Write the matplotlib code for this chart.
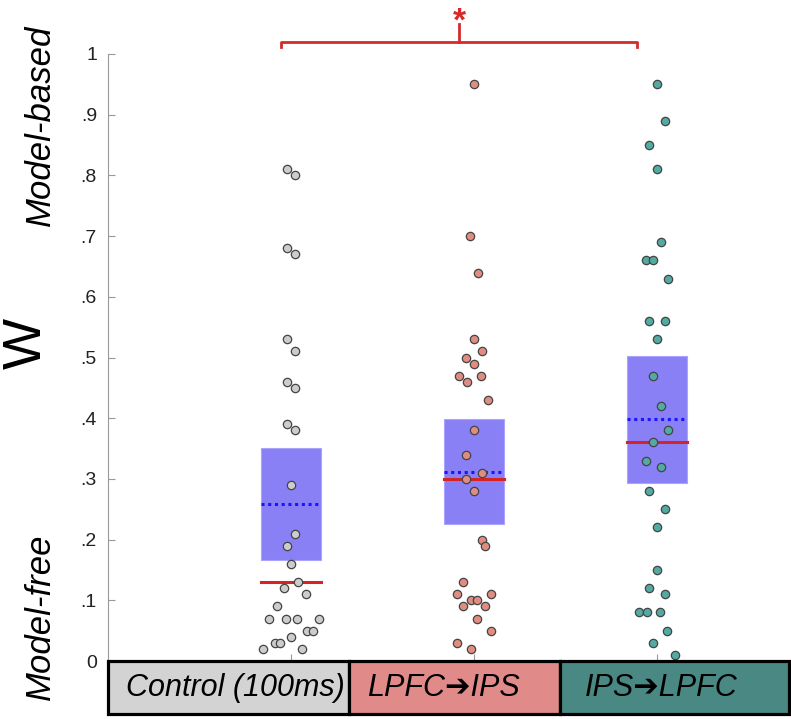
import matplotlib
matplotlib.use("Agg")
import matplotlib.pyplot as plt
from matplotlib.patches import Rectangle
import numpy as np

plt.rcParams['font.family'] = ['Liberation Sans', 'DejaVu Sans']

# Group names and colours
groups = ['Control (100ms)', 'LPFC\u2794IPS', 'IPS\u2794LPFC']
box_colors = ['#d3d3d3', '#e08a8a', '#4a8884']
dot_colors = ['#cccccc', '#e08c80', '#52aaa2']

# W values per subject
control = [.81, .80, .68, .67, .53, .51, .46, .45, .39, .38, .29, .21, .19, .16, .13,
           .12, .11, .09, .07, .07, .07, .07, .05, .05, .04, .03, .03, .02, .02]
lpfc_ips = [.95, .70, .64, .53, .51, .50, .49, .47, .47, .46, .43, .38, .34, .31, .30,
            .28, .20, .19, .13, .11, .11, .10, .10, .09, .09, .07, .05, .03, .02]
ips_lpfc = [.95, .89, .85, .81, .69, .66, .66, .63, .56, .56, .53, .47, .42, .38, .36,
            .33, .32, .28, .25, .22, .15, .12, .11, .08, .08, .08, .05, .03, .01]

# horizontal jitter of each dot (x units)
control_jit = [-.024, .024, -.024, .024, -.024, .024, -.024, .024, -.024, .024, 0, .024, -.024, 0, .04,
               -.04, .08, -.078, -.122, -.029, .031, .151, .089, .122, 0, -.089, -.06, -.151, .06]
lpfc_jit = [0, -.024, .022, 0, .044, -.042, 0, -.08, .04, -.038, .078, 0, -.042, .044, -.042,
            0, .044, .058, -.058, -.095, .095, -.018, .018, -.058, .058, .018, .095, -.095, -.018]
ips_jit = [0, .044, -.044, 0, .022, -.062, -.02, .062, -.044, .044, 0, -.022, .022, .062, -.022,
           -.062, .022, -.044, .044, 0, 0, -.044, .044, -.097, -.056, .018, .056, -.022, .097]

# summary boxes (lower, upper), means and medians
box_low = [.166, .226, .293]
box_high = [.351, .398, .502]
means = [.259, .312, .398]
medians = [.13, .30, .36]

data = [control, lpfc_ips, ips_lpfc]
jitter = [control_jit, lpfc_jit, ips_jit]

fig = plt.figure(figsize=(7.91, 7.19), dpi=100)
ax = fig.add_axes([108 / 791, 58 / 719, 681 / 791, 607 / 719])
ax.set_xlim(0, 681 / 183)
ax.set_ylim(0, 1)

bw = 0.333
for i in range(3):
    x0 = i + 1
    ax.add_patch(Rectangle((x0 - bw / 2, box_low[i]), bw, box_high[i] - box_low[i],
                           facecolor='#8a80f6', edgecolor='#aaa4ff', lw=0.8, zorder=1))
    ax.plot([x0 - bw / 2, x0 + bw / 2], [medians[i], medians[i]], color='#d42424', lw=2.2, zorder=2)
    ax.plot([x0 - bw / 2, x0 + bw / 2], [means[i], means[i]], color='#1a14ff', lw=2.2,
            linestyle=(0, (1, 1.2)), zorder=2)
    xs = x0 + np.array(jitter[i])
    ax.scatter(xs, data[i], s=36, facecolor=dot_colors[i], edgecolor='#444444', lw=0.9, zorder=3)

# category boxes under the axis
edges = [0, 241 / 183, 452 / 183, 681 / 183]
pad = [0.1, 0.1, 0.135]
for i in range(3):
    ax.add_patch(Rectangle((edges[i], -0.087), edges[i + 1] - edges[i], 0.087,
                           facecolor=box_colors[i], edgecolor='black', lw=2.3,
                           clip_on=False, zorder=4))
    ax.text(edges[i] + pad[i], -0.044, groups[i], fontsize=22, style='italic',
            ha='left', va='center', zorder=5)

# axes styling
for s in ['top', 'right', 'bottom']:
    ax.spines[s].set_visible(False)
ax.spines['left'].set_color('#999999')
ax.set_yticks(np.arange(0, 1.01, 0.1))
ax.set_yticklabels(['0', '.1', '.2', '.3', '.4', '.5', '.6', '.7', '.8', '.9', '1'])
ax.set_xticks([1, 2, 3])
ax.set_xticklabels([])
ax.tick_params(axis='y', direction='in', length=5, color='#999999', labelsize=14,
               labelcolor='#222222', pad=8)
ax.tick_params(axis='x', direction='in', length=5, color='#999999')

# side labels
fig.text(40 / 791, 1 - 125 / 719, 'Model-based', rotation=90, style='italic', fontsize=25,
         ha='center', va='center')
fig.text(40 / 791, 1 - 617 / 719, 'Model-free', rotation=90, style='italic', fontsize=25,
         ha='center', va='center')
fig.text(27 / 791, 1 - 343 / 719, 'W', rotation=90, fontsize=39, ha='center', va='center')

# significance bracket
bx = [0.945, 0.945, 2.891, 2.891]
by = [1.0115, 1.0198, 1.0198, 1.0115]
ax.plot(bx, by, color='#d42a2a', lw=2, clip_on=False)
ax.plot([1.918, 1.918], [1.0198, 1.05], color='#d42a2a', lw=2, clip_on=False)
ax.text(1.918, 1.038, '*', color='#d42a2a', fontsize=24, fontweight='bold',
        ha='center', va='baseline')

fig.savefig('out.png', dpi=100)
